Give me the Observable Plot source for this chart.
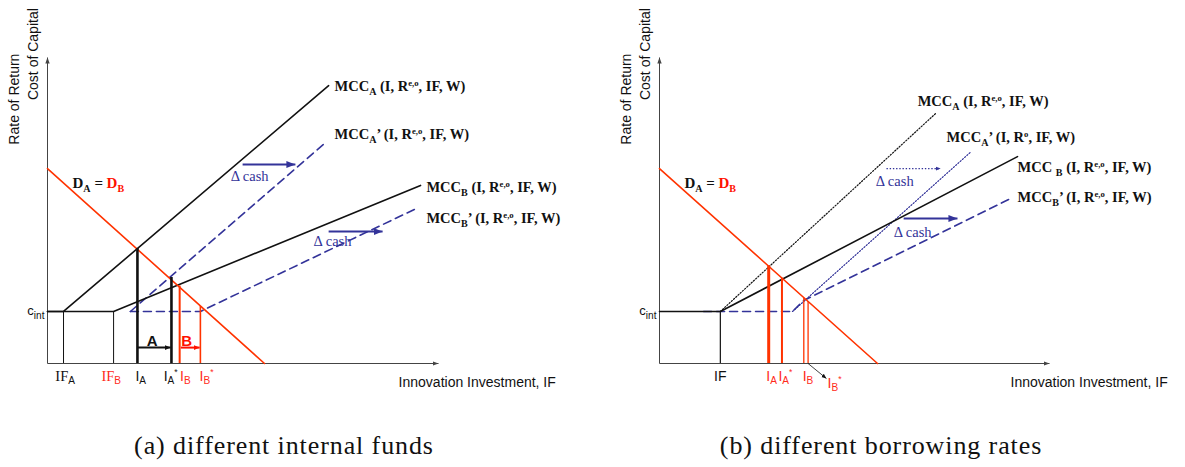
<!DOCTYPE html>
<html><head><meta charset="utf-8">
<script src="https://cdn.jsdelivr.net/npm/d3@7"></script>
<script src="https://cdn.jsdelivr.net/npm/@observablehq/plot@0.6"></script>
<style>
body{margin:0;background:#fff;width:1185px;height:467px;position:relative;overflow:hidden}
#row{display:flex;position:absolute;left:0;top:0}
.cap{position:absolute;top:432px;line-height:28px;font-family:"Liberation Serif",serif;font-size:26px;letter-spacing:0.9px;transform:translateX(-50%);white-space:nowrap;color:#111}
</style></head><body>
<div id="row"></div>
<div class="cap" id="capA" style="left:284px"></div>
<div class="cap" id="capB" style="left:881px"></div>
<script>
// ---------- data (x: investment units, y: rate units) ----------
const X_MAX = 100, Y_MAX = 100;
const C_INT = 17;
const captions = ["(a) different internal funds", "(b) different borrowing rates"];
const yTitles = [{text: "Rate of Return", x: -8.45, y: 86.4}, {text: "Cost of Capital", x: -3.6, y: 101.1}];
const xTitle = "Innovation Investment, IF";
const cIntLabel = "c_{int}";
const cashLabel = "Δ cash";

// Panel (a)
const aDemand = [[0, 63.7], [55.5, 0]];
const aMccA = [[0, 17], [4.1, 17], [71.9, 90.8]];
const aMccB = [[0, 17], [16.9, 17], [95.4, 58.2]];
const aMccA2 = [[21.2, 17], [71.1, 72.2]];
const aMccB2 = [[21.2, 17], [39.1, 17], [94.9, 51.0]];
const aFunds = [{x: 4.1, top: 17}, {x: 16.9, top: 17}];
const aInvestBlack = [{x: 23.0, top: 37.6}, {x: 31.7, top: 28.1}];
const aInvestRed = [{x: 33.8, top: 25.3}, {x: 39.1, top: 18.6}];
const aShiftA = [{x1: 23.0, x2: 31.5, y: 5.2}];
const aShiftB = [{x1: 34.1, x2: 38.9, y: 5.2}];
const aCash = [{x1: 49.9, x2: 63.4, y: 65.0}, {x1: 71.9, x2: 85.7, y: 43.1}];
const aCashLabels = [{x: 51.7, y: 61.1}, {x: 72.9, y: 40.0}];
const aMccLabels = [
  {text: "MCC_{A} (I, R^{e,o}, IF, W)", x: 73.4, y: 90.5},
  {text: "MCC_{A}’ (I, R^{e,o}, IF, W)", x: 73.4, y: 74.8},
  {text: "MCC_{B} (I, R^{e,o}, IF, W)", x: 96.9, y: 57.5},
  {text: "MCC_{B}’ (I, R^{e,o}, IF, W)", x: 96.9, y: 47.4}
];
const aShiftLabels = [{text: "A", x: 26.8}, {text: "B", x: 35.6}];
const aTicksSerif = [{label: "IF_s{A}", x: 2.0}];
const aTicksSerifRed = [{label: "IF_s{B}", x: 13.8}];
const aTicksBlack = [{label: "I_{A}", x: 22.5}, {label: "I_{A}^{*}", x: 29.7}];
const aTicksRed = [{label: "I_{B}", x: 33.9}, {label: "I_{B}^{*}", x: 38.9}];
const aXTitleAt = 89.8;

// Panel (b)
const bDemand = [[0, 63.7], [55.9, 0]];
const bMccA = [[15.6, 17], [70.8, 81.7]];
const bMccB = [[0, 17], [15.6, 17], [91.8, 67.6]];
const bMccA2 = [[34.1, 17], [79.7, 69.0]];
const bMccB2 = [[11.3, 17], [34.1, 17], [37.0, 20.6], [90.5, 54.2]];
const bFunds = [{x: 15.6, top: 17}];
const bInvestRed = [{x: 28.0, top: 31.9}, {x: 31.4, top: 27.9}, {x: 37.0, top: 21.3}, {x: 38.1, top: 20.3}];
const bPointer = [{x1: 38.1, y1: 0, x2: 42.8, y2: -4.9}];
const bCashDotted = [{x1: 58.2, x2: 72.1, y: 63.7}];
const bCashSolid = [{x1: 62.6, x2: 76.4, y: 47.4}];
const bCashLabels = [{x: 60.3, y: 59.4}, {x: 64.9, y: 43.0}];
const bMccLabels = [
  {text: "MCC_{A} (I, R^{e,o}, IF, W)", x: 66.2, y: 85.6},
  {text: "MCC_{A}’ (I, R^{o}, IF, W)", x: 73.6, y: 73.9},
  {text: "MCC _{B} (I, R^{e,o}, IF, W)", x: 91.8, y: 64.1},
  {text: "MCC_{B}’ (I, R^{e,o}, IF, W)", x: 91.8, y: 54.2}
];
const bTicksBlack = [{label: "IF", x: 15.6}];
const bTicksRed = [{label: "I_{A}", x: 27.4}, {label: "I_{A}^{*}", x: 30.5}, {label: "I_{B}", x: 36.7}];
const bTicksRedLow = [{label: "I_{B}^{*}", x: 43.1}];
const bXTitleAt = 90.0;

const demandLabel = [{text: "D_{A} =", x: 6.4, y: 58.8}];
const demandLabelRed = [{text: "D_{B}", x: 15.1, y: 58.8}];

// ---------- styles ----------
const RED = "#ff3300", RED_T = "#ff2a1a", BLUE = "#333399", AX = "#444";
const SERIF = "Liberation Serif, Times New Roman, serif";
const SANS = "Liberation Sans, Arial, sans-serif";
const NS = "http://www.w3.org/2000/svg";

function head(len, wid) {
  return (color) => {
    const m = document.createElementNS(NS, "marker");
    m.setAttribute("viewBox", `${-len} ${-wid} ${len + 1} ${2 * wid}`);
    m.setAttribute("markerUnits", "userSpaceOnUse");
    m.setAttribute("markerWidth", len + 1);
    m.setAttribute("markerHeight", 2 * wid);
    m.setAttribute("refX", 0);
    m.setAttribute("refY", 0);
    m.setAttribute("orient", "auto");
    const p = document.createElementNS(NS, "path");
    p.setAttribute("d", `M${-len},${-wid / 2}L0,0L${-len},${wid / 2}Z`);
    p.setAttribute("fill", color);
    p.setAttribute("stroke", "none");
    m.appendChild(p);
    return m;
  };
}
const axisHead = head(6, 4.4);
const bigHead = head(9, 7);
const smallHead = head(6, 5);

function richify(svg) {
  svg.querySelectorAll("text").forEach(t => {
    const s = t.textContent;
    if (!/(_s|_|\^)\{/.test(s)) return;
    const fs = parseFloat(getComputedStyle(t).fontSize) || 14;
    while (t.firstChild) t.removeChild(t.firstChild);
    const re = /(_s|_|\^)\{([^}]*)\}/g;
    let last = 0, m, shift = 0;
    const add = (str, kind) => {
      const ts = document.createElementNS(NS, "tspan");
      ts.textContent = str;
      let target = 0;
      if (kind === "_" || kind === "_s") { target = 0.28 * fs; ts.setAttribute("font-size", 0.72 * fs); }
      if (kind === "^") { target = -0.38 * fs; ts.setAttribute("font-size", 0.62 * fs); }
      if (kind === "_s") ts.setAttribute("font-family", SANS);
      if (target !== shift) ts.setAttribute("dy", target - shift);
      shift = target;
      t.appendChild(ts);
    };
    while ((m = re.exec(s))) {
      if (m.index > last) add(s.slice(last, m.index), "");
      add(m[2], m[1]);
      last = re.lastIndex;
    }
    if (last < s.length) add(s.slice(last), "");
  });
}

const axisLinks = [{x1: 0, y1: 0, x2: X_MAX, y2: 0}, {x1: 0, y1: 0, x2: 0, y2: Y_MAX}];

function common() {
  return [
    Plot.link(axisLinks, {x1: "x1", y1: "y1", x2: "x2", y2: "y2", stroke: AX, strokeWidth: 1, markerEnd: axisHead}),
    Plot.text(yTitles, {x: "x", y: "y", text: "text", rotate: -90, fontFamily: SANS, fontSize: 14, fill: "#111"}),
    Plot.text([cIntLabel], {y: () => C_INT, frameAnchor: "left", textAnchor: "end", dx: -3, dy: -1, fontFamily: SANS, fontSize: 13, fill: "#111"}),
    Plot.text(demandLabel, {x: "x", y: "y", text: "text", textAnchor: "start", fontFamily: SERIF, fontWeight: "bold", fontSize: 15, fill: "#111"}),
    Plot.text(demandLabelRed, {x: "x", y: "y", text: "text", textAnchor: "start", fontFamily: SERIF, fontWeight: "bold", fontSize: 15, fill: "#ff1100"})
  ];
}

function frame(width, marginLeft, marginRight, marks) {
  const svg = Plot.plot({
    width, height: 420, marginLeft, marginRight, marginTop: 57, marginBottom: 57,
    x: {domain: [0, X_MAX], axis: null},
    y: {domain: [0, Y_MAX], axis: null},
    style: {fontFamily: SANS, background: "white", overflow: "visible"},
    marks
  });
  richify(svg);
  return svg;
}

const lineOpts = {strokeWidth: 1.6, strokeLinejoin: "round"};
const tickDy = 17;

// ---------- panel (a) ----------
const svgA = frame(592, 47, 154, [
  ...common(),
  Plot.ruleX(aFunds, {x: "x", y1: 0, y2: "top", stroke: "#111", strokeWidth: 1}),
  Plot.line(aMccA2, {stroke: BLUE, strokeDasharray: "8,5", ...lineOpts}),
  Plot.line(aMccB2, {stroke: BLUE, strokeDasharray: "8,5", ...lineOpts}),
  Plot.line(aMccA, {stroke: "#111", ...lineOpts}),
  Plot.line(aMccB, {stroke: "#111", ...lineOpts}),
  Plot.line(aDemand, {stroke: RED, ...lineOpts}),
  Plot.ruleX(aInvestBlack, {x: "x", y1: 0, y2: "top", stroke: "#111", strokeWidth: 2.6}),
  Plot.ruleX(aInvestRed, {x: "x", y1: 0, y2: "top", stroke: RED, strokeWidth: (d, i) => [2, 1.6][i]}),
  Plot.link(aShiftA, {x1: "x1", x2: "x2", y1: "y", y2: "y", stroke: "#111", strokeWidth: 2, markerEnd: smallHead}),
  Plot.link(aShiftB, {x1: "x1", x2: "x2", y1: "y", y2: "y", stroke: "#ff1100", strokeWidth: 2, markerEnd: smallHead}),
  Plot.text(aShiftLabels, {x: "x", y: () => 7.4, text: "text", fontFamily: SANS, fontWeight: "bold", fontSize: 15, fill: (d, i) => ["#111", "#ff1100"][i]}),
  Plot.link(aCash, {x1: "x1", x2: "x2", y1: "y", y2: "y", stroke: BLUE, strokeWidth: 2, markerEnd: bigHead}),
  Plot.text(aCashLabels, {x: "x", y: "y", text: () => cashLabel, fontFamily: SERIF, fontSize: 14.5, fill: BLUE}),
  Plot.text(aMccLabels, {x: "x", y: "y", text: "text", textAnchor: "start", fontFamily: SERIF, fontWeight: "bold", fontSize: 14.5, fill: "#111"}),
  Plot.text(aTicksSerif, {x: "x", text: "label", frameAnchor: "bottom", dy: tickDy, textAnchor: "start", fontFamily: SERIF, fontSize: 14.5, fill: "#111"}),
  Plot.text(aTicksSerifRed, {x: "x", text: "label", frameAnchor: "bottom", dy: tickDy, textAnchor: "start", fontFamily: SERIF, fontSize: 14.5, fill: RED_T}),
  Plot.text(aTicksBlack, {x: "x", text: "label", frameAnchor: "bottom", dy: tickDy, textAnchor: "start", fontFamily: SANS, fontSize: 14, fill: "#111"}),
  Plot.text(aTicksRed, {x: "x", text: "label", frameAnchor: "bottom", dy: tickDy, textAnchor: "start", fontFamily: SANS, fontSize: 14, fill: RED_T}),
  Plot.text([xTitle], {x: () => aXTitleAt, frameAnchor: "bottom", dy: 23, textAnchor: "start", fontFamily: SANS, fontSize: 14, fill: "#111"})
]);

// ---------- panel (b) ----------
const svgB = frame(593, 67, 136, [
  ...common(),
  Plot.ruleX(bFunds, {x: "x", y1: 0, y2: "top", stroke: "#111", strokeWidth: 1.2}),
  Plot.line(bMccB2, {stroke: BLUE, strokeDasharray: "8,5", ...lineOpts}),
  Plot.line(bMccA2, {stroke: BLUE, strokeDasharray: "1.2,1.8", strokeWidth: 1.2}),
  Plot.line(bMccA, {stroke: "#111", strokeDasharray: "1.2,1.8", strokeWidth: 1.2}),
  Plot.line(bMccB, {stroke: "#111", ...lineOpts}),
  Plot.line(bDemand, {stroke: RED, ...lineOpts}),
  Plot.ruleX(bInvestRed, {x: "x", y1: 0, y2: "top", stroke: RED, strokeWidth: (d, i) => [3, 2, 1.3, 1.3][i]}),
  Plot.link(bPointer, {x1: "x1", y1: "y1", x2: "x2", y2: "y2", stroke: "#111", strokeWidth: 0.8, markerEnd: head(5, 4)}),
  Plot.link(bCashDotted, {x1: "x1", x2: "x2", y1: "y", y2: "y", stroke: BLUE, strokeWidth: 1.4, strokeDasharray: "1.4,1.8", markerEnd: head(5, 4)}),
  Plot.link(bCashSolid, {x1: "x1", x2: "x2", y1: "y", y2: "y", stroke: BLUE, strokeWidth: 2, markerEnd: bigHead}),
  Plot.text(bCashLabels, {x: "x", y: "y", text: () => cashLabel, fontFamily: SERIF, fontSize: 14.5, fill: BLUE}),
  Plot.text(bMccLabels, {x: "x", y: "y", text: "text", textAnchor: "start", fontFamily: SERIF, fontWeight: "bold", fontSize: 14.5, fill: "#111"}),
  Plot.text(bTicksBlack, {x: "x", text: "label", frameAnchor: "bottom", dy: tickDy, fontFamily: SANS, fontSize: 14, fill: "#111"}),
  Plot.text(bTicksRed, {x: "x", text: "label", frameAnchor: "bottom", dy: tickDy, textAnchor: "start", fontFamily: SANS, fontSize: 14, fill: RED_T}),
  Plot.text(bTicksRedLow, {x: "x", text: "label", frameAnchor: "bottom", dy: tickDy + 7, textAnchor: "start", fontFamily: SANS, fontSize: 14, fill: RED_T}),
  Plot.text([xTitle], {x: () => bXTitleAt, frameAnchor: "bottom", dy: 23, textAnchor: "start", fontFamily: SANS, fontSize: 14, fill: "#111"})
]);

const row = document.getElementById("row");
row.appendChild(svgA);
row.appendChild(svgB);
document.getElementById("capA").textContent = captions[0];
document.getElementById("capB").textContent = captions[1];
</script></body></html>
